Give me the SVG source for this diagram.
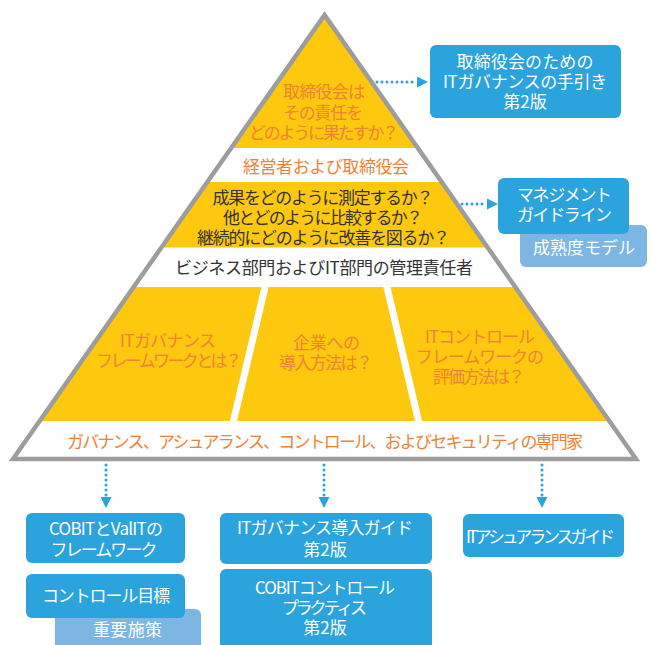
<svg xmlns="http://www.w3.org/2000/svg" width="653" height="645" viewBox="0 0 653 645">
<defs>
<style>
text{font-family:"Noto Sans CJK JP","Noto Sans",sans-serif;font-size:17px;text-anchor:middle}
.or{fill:#ef8234}
.dk{fill:#333333}
.wt{fill:#ffffff}
.box{fill:#2ba3dc}
.lbox{fill:#7db5e3}
.yel{fill:#fdc80e}
.dot{stroke:#2ba3dc;stroke-width:3;stroke-dasharray:0 5;stroke-linecap:round;fill:none}
</style>
<clipPath id="tri"><polygon points="324.5,15 13,459 636,459"/></clipPath>
<marker id="ah" viewBox="0 0 10 10" refX="0" refY="5" markerWidth="11" markerHeight="11" markerUnits="userSpaceOnUse" orient="auto">
<path d="M0,0 L10,5 L0,10 z" fill="#2ba3dc"/>
</marker>
</defs>

<g id="pyramid">
<polygon points="324.5,15 13,459 636,459" fill="#ffffff"/>
<g clip-path="url(#tri)">
<rect class="yel" x="0" y="0" width="653" height="148"/>
<rect class="yel" x="0" y="182" width="653" height="65.5"/>
<rect class="yel" x="0" y="287" width="653" height="134"/>
<line x1="266" y1="283" x2="232.5" y2="425" stroke="#fff" stroke-width="7"/>
<line x1="386" y1="283" x2="419.5" y2="425" stroke="#fff" stroke-width="7"/>
</g>
<polygon points="324.5,15 13,459 636,459" fill="none" stroke="#9d9d9d" stroke-width="4.5"/>
</g>

<g id="q-board">
<text class="or" x="324" y="98" textLength="82">取締役会は</text>
<text class="or" x="323" y="119" textLength="80">その責任を</text>
<text class="or" x="324" y="139" textLength="150">どのように果たすか？</text>
</g>
<g id="l-board">
<text class="or" x="326" y="173" textLength="166">経営者および取締役会</text>
</g>
<g id="q-measure">
<text class="dk" x="323" y="204" textLength="221">成果をどのように測定するか？</text>
<text class="dk" x="323" y="224" textLength="200">他とどのように比較するか？</text>
<text class="dk" x="323.5" y="244" textLength="253">継続的にどのように改善を図るか？</text>
</g>
<g id="l-managers">
<text class="dk" x="324" y="274" textLength="298">ビジネス部門およびIT部門の管理責任者</text>
</g>
<g id="q-framework">
<text class="or" x="168" y="347" textLength="96">ITガバナンス</text>
<text class="or" x="169" y="367" textLength="146">フレームワークとは？</text>
</g>
<g id="q-implement">
<text class="or" x="326.5" y="349" textLength="67">企業への</text>
<text class="or" x="326" y="369" textLength="94">導入方法は？</text>
</g>
<g id="q-control">
<text class="or" x="480" y="343" textLength="110">ITコントロール</text>
<text class="or" x="480" y="363" textLength="128">フレームワークの</text>
<text class="or" x="479" y="383" textLength="92">評価方法は？</text>
</g>
<g id="l-experts">
<text class="or" x="325" y="448" textLength="516">ガバナンス、アシュアランス、コントロール、およびセキュリティの専門家</text>
</g>

<g id="connectors">
<line class="dot" x1="377" y1="82" x2="417" y2="82" marker-end="url(#ah)"/>
<line class="dot" x1="462" y1="204" x2="487" y2="204" marker-end="url(#ah)"/>
<line class="dot" x1="106" y1="465" x2="106" y2="497" marker-end="url(#ah)"/>
<line class="dot" x1="324" y1="465" x2="324" y2="497" marker-end="url(#ah)"/>
<line class="dot" x1="542" y1="465" x2="542" y2="497" marker-end="url(#ah)"/>
</g>

<g id="board-guide">
<rect class="box" x="430" y="45" width="191" height="73" rx="6"/>
<text class="wt" x="525" y="68" textLength="137">取締役会のための</text>
<text class="wt" x="525" y="88" textLength="164">ITガバナンスの手引き</text>
<text class="wt" x="525" y="108">第2版</text>
</g>
<g id="maturity-model">
<rect class="lbox" x="520" y="225" width="127" height="42" rx="6"/>
<text class="wt" x="584" y="254" textLength="102">成熟度モデル</text>
</g>
<g id="mgmt-guide">
<rect class="box" x="498" y="178" width="131" height="56" rx="6"/>
<text class="wt" x="564.5" y="201" textLength="95">マネジメント</text>
<text class="wt" x="564.5" y="221" textLength="95">ガイドライン</text>
</g>
<g id="cobit-valit">
<rect class="box" x="26" y="513" width="159" height="50" rx="6"/>
<text class="wt" x="106" y="535" textLength="114">COBITとValITの</text>
<text class="wt" x="104" y="556" textLength="107">フレームワーク</text>
</g>
<g id="key-practices">
<rect class="lbox" x="55" y="609" width="146" height="45" rx="6"/>
<text class="wt" x="127.5" y="636" textLength="69">重要施策</text>
</g>
<g id="control-objectives">
<rect class="box" x="26" y="574" width="159" height="44" rx="6"/>
<text class="wt" x="106" y="602" textLength="128">コントロール目標</text>
</g>
<g id="itg-impl-guide">
<rect class="box" x="220" y="513" width="212" height="51" rx="6"/>
<text class="wt" x="325" y="534" textLength="176">ITガバナンス導入ガイド</text>
<text class="wt" x="325" y="556">第2版</text>
</g>
<g id="cobit-control-practices">
<rect class="box" x="220" y="569" width="212" height="85" rx="6"/>
<text class="wt" x="325" y="594" textLength="140">COBITコントロール</text>
<text class="wt" x="324.5" y="614" textLength="85">プラクティス</text>
<text class="wt" x="325" y="634">第2版</text>
</g>
<g id="it-assurance-guide">
<rect class="box" x="463" y="514" width="161" height="43" rx="6"/>
<text class="wt" x="540.5" y="543" textLength="149">ITアシュアランスガイド</text>
</g>
</svg>
